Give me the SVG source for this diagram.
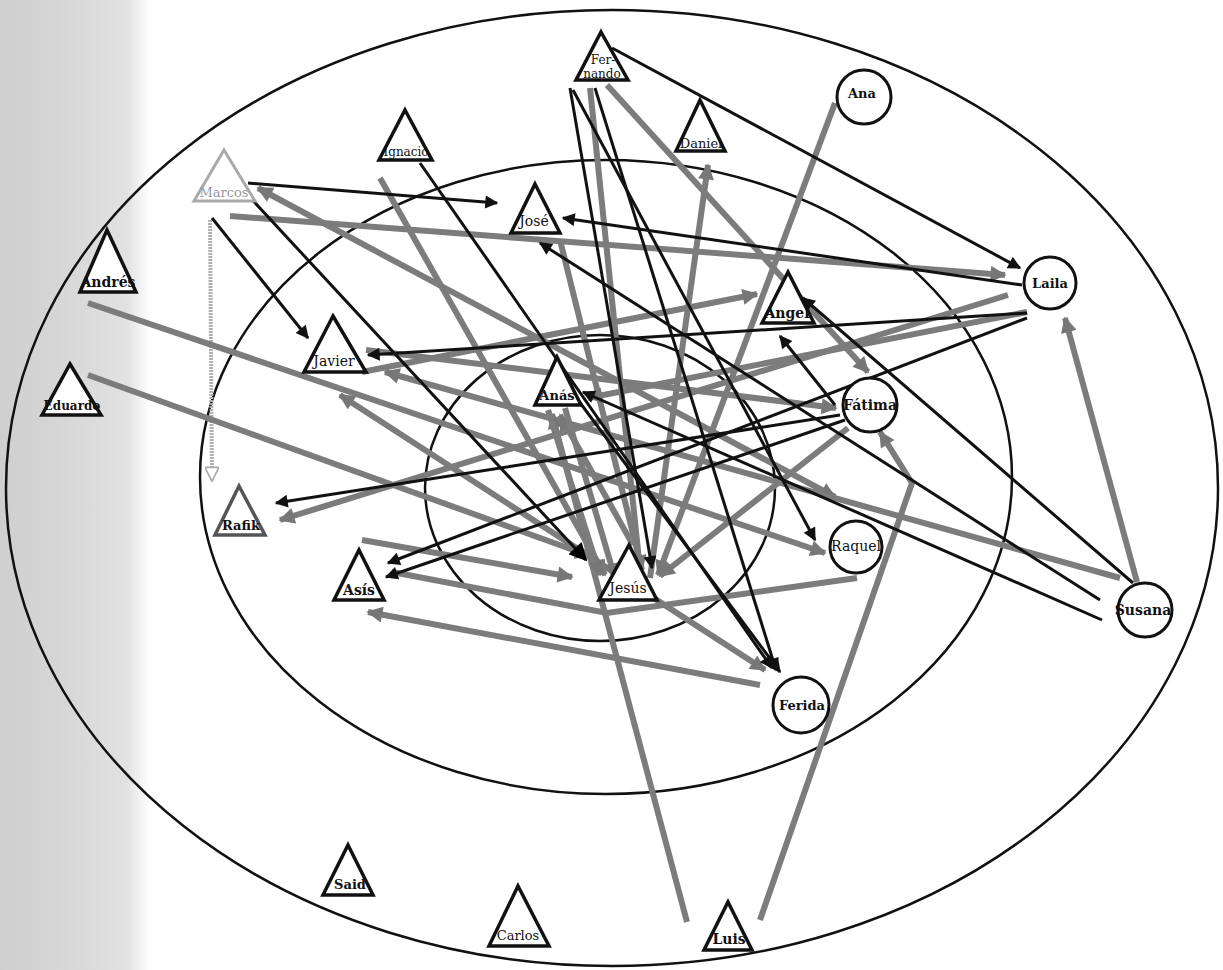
<svg xmlns="http://www.w3.org/2000/svg" width="1223" height="970" viewBox="0 0 1223 970">
<defs>
<linearGradient id="bg" x1="0" y1="0" x2="1" y2="0">
<stop offset="0" stop-color="#cfcfcf"/>
<stop offset="0.4" stop-color="#d6d6d6"/>
<stop offset="0.85" stop-color="#e2e2e2"/>
<stop offset="1" stop-color="#ffffff"/>
</linearGradient>
<marker id="ab" viewBox="0 0 10 10" refX="9" refY="5" markerWidth="16" markerHeight="13" markerUnits="userSpaceOnUse" orient="auto-start-reverse"><path d="M0,0 L10,5 L0,10 z" fill="#111"/></marker>
<marker id="abig" viewBox="0 0 10 10" refX="9" refY="5" markerWidth="22" markerHeight="18" markerUnits="userSpaceOnUse" orient="auto"><path d="M0,0 L10,5 L0,10 z" fill="#000"/></marker>
<marker id="ag" viewBox="0 0 10 10" refX="9" refY="5" markerWidth="20" markerHeight="16" markerUnits="userSpaceOnUse" orient="auto-start-reverse"><path d="M0,0 L10,5 L0,10 z" fill="#777"/></marker>
<marker id="al" viewBox="0 0 10 10" refX="9" refY="5" markerWidth="16" markerHeight="14" markerUnits="userSpaceOnUse" orient="auto"><path d="M0,0 L10,5 L0,10 z" fill="#fff" stroke="#aaa" stroke-width="1.2"/></marker>
</defs>
<style>
.ring{fill:none;stroke:#111;stroke-width:2.5}
.b{fill:none;stroke:#111;stroke-width:3;marker-end:url(#ab)}
.g{fill:none;stroke:#7c7c7c;stroke-width:6;marker-end:url(#ag)}
.gn{fill:none;stroke:#7c7c7c;stroke-width:6}
.lt{fill:none;stroke:#b0b0b0;stroke-width:4;stroke-dasharray:2 1;marker-end:url(#al)}
.tri{fill:#fff;stroke:#111;stroke-width:3.5;stroke-linejoin:miter}
.cir{fill:#fff;stroke:#111;stroke-width:3}
.lbl{font-family:"DejaVu Serif","Liberation Serif",serif;font-size:14px;font-weight:bold;fill:#111;text-anchor:middle}
.lr{font-family:"DejaVu Serif","Liberation Serif",serif;font-size:14px;fill:#111;text-anchor:middle}
.s12{font-size:12px}
.s13{font-size:13px}
</style>
<rect x="0" y="0" width="1223" height="970" fill="#fff"/>
<rect x="0" y="0" width="150" height="970" fill="url(#bg)"/>
<g id="rings">
<ellipse class="ring" cx="612" cy="488" rx="606" ry="478"/>
<ellipse class="ring" cx="606" cy="477" rx="406" ry="317"/>
<ellipse class="ring" cx="600" cy="488" rx="175" ry="153"/>
</g>
<g id="connectors">
<path class="lt" d="M210,220 L212,480"/>
<path class="g" d="M607,85 L868,372"/>
<path class="g" d="M590,88 L640,570"/>
<path class="g" d="M380,178 L605,575"/>
<path class="g" d="M650,578 L708,165"/>
<path class="g" d="M835,103 L658,575"/>
<path class="g" d="M230,216 L1005,275"/>
<path class="g" d="M835,497 L258,188" marker-start="url(#ag)"/>
<path class="g" d="M88,303 L825,553"/>
<path class="g" d="M88,375 L590,556"/>
<path class="g" d="M1120,578 L385,372"/>
<path class="g" d="M340,395 L765,670" marker-start="url(#ag)"/>
<path class="g" d="M560,240 L642,570"/>
<path class="g" d="M362,372 L757,294"/>
<path class="g" d="M1008,295 L280,520"/>
<path class="g" d="M1027,312 L588,398"/>
<path class="g" d="M1137,582 L1065,318"/>
<path class="g" d="M760,920 L912,483 L880,432"/>
<path class="g" d="M687,922 L552,414"/>
<path class="g" d="M633,545 L560,415"/>
<path class="g" d="M548,410 L600,575"/>
<path class="g" d="M565,408 L615,578"/>
<path class="g" d="M362,540 L572,577"/>
<path class="gn" d="M857,578 L607,613 L392,572"/>
<path class="g" d="M760,685 L368,612"/>
<path class="g" d="M848,428 L660,576"/>
<path class="g" d="M366,350 L836,408"/>
<path class="b" d="M612,48 L1020,268"/>
<path class="b" d="M573,90 L815,540"/>
<path class="b" d="M570,88 L652,568"/>
<path class="b" d="M595,88 L776,670"/>
<path class="b" d="M420,163 L772,668"/>
<path class="b" d="M248,183 L497,203"/>
<path class="b" d="M232,178 L586,560" style="marker-end:url(#abig)"/>
<path class="b" d="M212,218 L308,338"/>
<path class="b" d="M1022,285 L563,218"/>
<path class="b" d="M1100,600 L540,243"/>
<path class="b" d="M1027,313 L368,355"/>
<path class="b" d="M840,415 L276,503"/>
<path class="b" d="M1027,318 L388,563"/>
<path class="b" d="M845,420 L386,577"/>
<path class="b" d="M1133,583 L803,298"/>
<path class="b" d="M835,405 L780,336"/>
<path class="b" d="M1102,620 L583,392"/>
<path class="b" d="M578,400 L780,672"/>
</g>
<g id="n-fernando"><path class="tri" d="M601,32 L628,80 L576,80 Z"/><text class="lr s12" x="603" y="64">Fer-</text><text class="lr s12" x="602" y="78">nando</text></g>
<g id="n-ignacio"><path class="tri" d="M405,110 L432,160 L379,160 Z"/><text class="lr s12" x="406" y="156">Ignacio</text></g>
<g id="n-daniel"><path class="tri" d="M700,100 L725,151 L676,151 Z"/><text class="lr s13" x="701" y="148">Daniel</text></g>
<g id="n-marcos"><path class="tri" d="M224,150 L255,201 L194,201 Z" style="stroke:#aaa;stroke-width:3"/><text class="lr s13" x="224" y="197" style="fill:#999">Marcos</text></g>
<g id="n-jose"><path class="tri" d="M535,184 L560,233 L511,233 Z"/><text class="lr" x="534" y="226">José</text></g>
<g id="n-andres"><path class="tri" d="M107,230 L136,292 L80,292 Z"/><text class="lbl" x="108" y="287">Andrés</text></g>
<g id="n-angel"><path class="tri" d="M788,272 L814,323 L762,323 Z"/><text class="lbl" x="787" y="318">Angel</text></g>
<g id="n-javier"><path class="tri" d="M333,316 L366,372 L304,372 Z"/><text class="lr" x="334" y="366">Javier</text></g>
<g id="n-eduardo"><path class="tri" d="M70,364 L101,415 L42,415 Z"/><text class="lbl s12" x="72" y="410">Eduardo</text></g>
<g id="n-anas"><path class="tri" d="M557,357 L581,405 L535,405 Z"/><text class="lbl s13" x="557" y="400">Anás</text></g>
<g id="n-rafik"><path class="tri" d="M239,486 L265,535 L215,535 Z" style="stroke:#555"/><text class="lbl s13" x="241" y="530">Rafik</text></g>
<g id="n-asis"><path class="tri" d="M359,550 L384,600 L334,600 Z"/><text class="lbl" x="359" y="595">Asís</text></g>
<g id="n-jesus"><path class="tri" d="M629,545 L657,600 L599,600 Z"/><text class="lr" x="628" y="593">Jesús</text></g>
<g id="n-said"><path class="tri" d="M348,845 L373,895 L323,895 Z"/><text class="lbl s13" x="350" y="889">Said</text></g>
<g id="n-carlos"><path class="tri" d="M518,886 L549,946 L489,946 Z"/><text class="lr s13" x="518" y="940">Carlos</text></g>
<g id="n-luis"><path class="tri" d="M728,902 L752,950 L704,950 Z"/><text class="lbl" x="729" y="944">Luis</text></g>
<g id="n-ana"><circle class="cir" cx="864" cy="97" r="27"/><text class="lbl s13" x="862" y="98">Ana</text></g>
<g id="n-laila"><circle class="cir" cx="1050" cy="283" r="26"/><text class="lbl s13" x="1050" y="288">Laila</text></g>
<g id="n-fatima"><circle class="cir" cx="870" cy="405" r="27"/><text class="lbl" x="870" y="410">Fátima</text></g>
<g id="n-raquel"><circle class="cir" cx="856" cy="547" r="26"/><text class="lr" x="856" y="551">Raquel</text></g>
<g id="n-susana"><circle class="cir" cx="1145" cy="610" r="27"/><text class="lbl" x="1143" y="615">Susana</text></g>
<g id="n-ferida"><circle class="cir" cx="801" cy="705" r="28"/><text class="lbl s13" x="802" y="710">Ferida</text></g>
</svg>
